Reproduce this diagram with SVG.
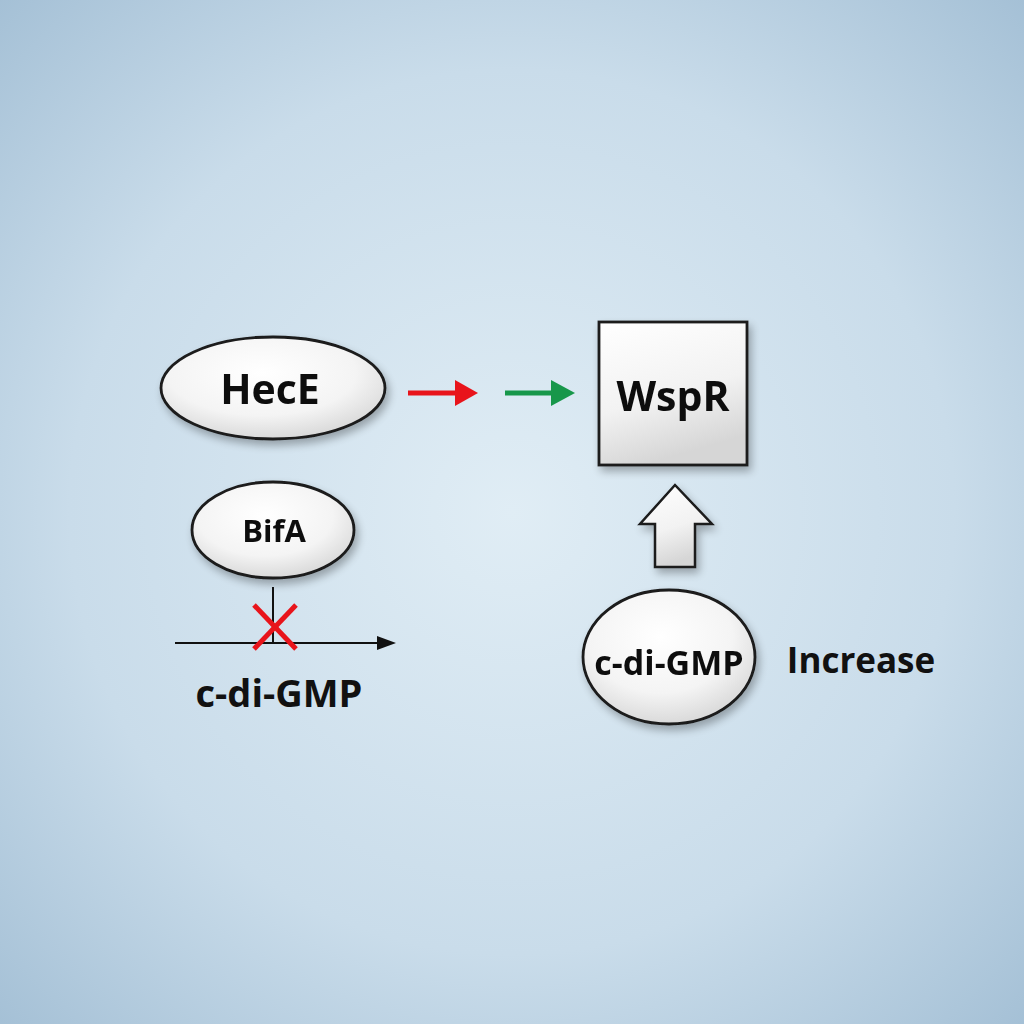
<svg xmlns="http://www.w3.org/2000/svg" width="1024" height="1024" viewBox="0 0 1024 1024">
<defs>
<radialGradient id="bg" cx="50%" cy="50%" r="72%">
<stop offset="0" stop-color="#e0edf5"/>
<stop offset="0.6" stop-color="#c9dcea"/>
<stop offset="1" stop-color="#a3bfd5"/>
</radialGradient>
<radialGradient id="fillE" cx="45%" cy="35%" r="70%">
<stop offset="0" stop-color="#ffffff"/>
<stop offset="0.6" stop-color="#f4f4f4"/>
<stop offset="1" stop-color="#d4d4d4"/>
</radialGradient>
<linearGradient id="fillR" x1="0" y1="0" x2="0.3" y2="1">
<stop offset="0" stop-color="#ffffff"/>
<stop offset="0.6" stop-color="#f2f2f2"/>
<stop offset="1" stop-color="#d6d6d6"/>
</linearGradient>
<filter id="sh" x="-20%" y="-20%" width="150%" height="150%">
<feGaussianBlur in="SourceAlpha" stdDeviation="4"/>
<feOffset dx="3" dy="5"/>
<feComponentTransfer><feFuncA type="linear" slope="0.3"/></feComponentTransfer>
<feMerge><feMergeNode/><feMergeNode in="SourceGraphic"/></feMerge>
</filter>
<style>
.node{stroke:#1a1a1a;stroke-width:2.8;}
.lbl{font-family:"Open Sans","Noto Sans","Liberation Sans",sans-serif;font-weight:bold;fill:#111;text-anchor:middle;dominant-baseline:central;}
</style>
</defs>
<rect width="1024" height="1024" fill="url(#bg)"/>

<g id="HecE" filter="url(#sh)">
<ellipse class="node" cx="273" cy="388" rx="112" ry="51" fill="url(#fillE)"/>
<text class="lbl" x="270" y="388" font-size="41">HecE</text>
</g>

<g id="BifA" filter="url(#sh)">
<ellipse class="node" cx="273" cy="530" rx="81" ry="48" fill="url(#fillE)"/>
<text class="lbl" x="274" y="530" font-size="31">BifA</text>
</g>

<g id="WspR" filter="url(#sh)">
<rect class="node" x="599" y="322" width="148" height="143" fill="url(#fillR)"/>
<text class="lbl" x="673" y="395" font-size="41">WspR</text>
</g>

<g id="cdiGMP-node" filter="url(#sh)">
<ellipse class="node" cx="669" cy="657" rx="86" ry="67" fill="url(#fillE)"/>
<text class="lbl" x="669" y="662" font-size="34">c-di-GMP</text>
</g>

<g id="labels">
<text class="lbl" x="279" y="692" font-size="38">c-di-GMP</text>
<text class="lbl" x="861" y="659" font-size="35">Increase</text>
</g>

<g id="connectors">
<line x1="408" y1="393" x2="458" y2="393" stroke="#e8141b" stroke-width="5"/>
<path d="M455,380 L478,393 L455,406 z" fill="#e8141b"/>
<line x1="505" y1="393" x2="553" y2="393" stroke="#17974a" stroke-width="5"/>
<path d="M551,380 L575,393 L551,406 z" fill="#17974a"/>
<line x1="273" y1="587" x2="273" y2="643" stroke="#111" stroke-width="2"/>
<line x1="175" y1="643" x2="380" y2="643" stroke="#111" stroke-width="2"/>
<path d="M377,636 L396,643 L377,650 z" fill="#111"/>
<g stroke="#e8141b" stroke-width="5">
<line x1="254" y1="605" x2="296" y2="649"/>
<line x1="296" y1="605" x2="254" y2="649"/>
</g>
<path filter="url(#sh)" d="M675,485 L712,524 L695,524 L695,567 L655,567 L655,524 L640,524 Z" fill="url(#fillR)" stroke="#1a1a1a" stroke-width="2.5" stroke-linejoin="miter"/>
</g>
</svg>
